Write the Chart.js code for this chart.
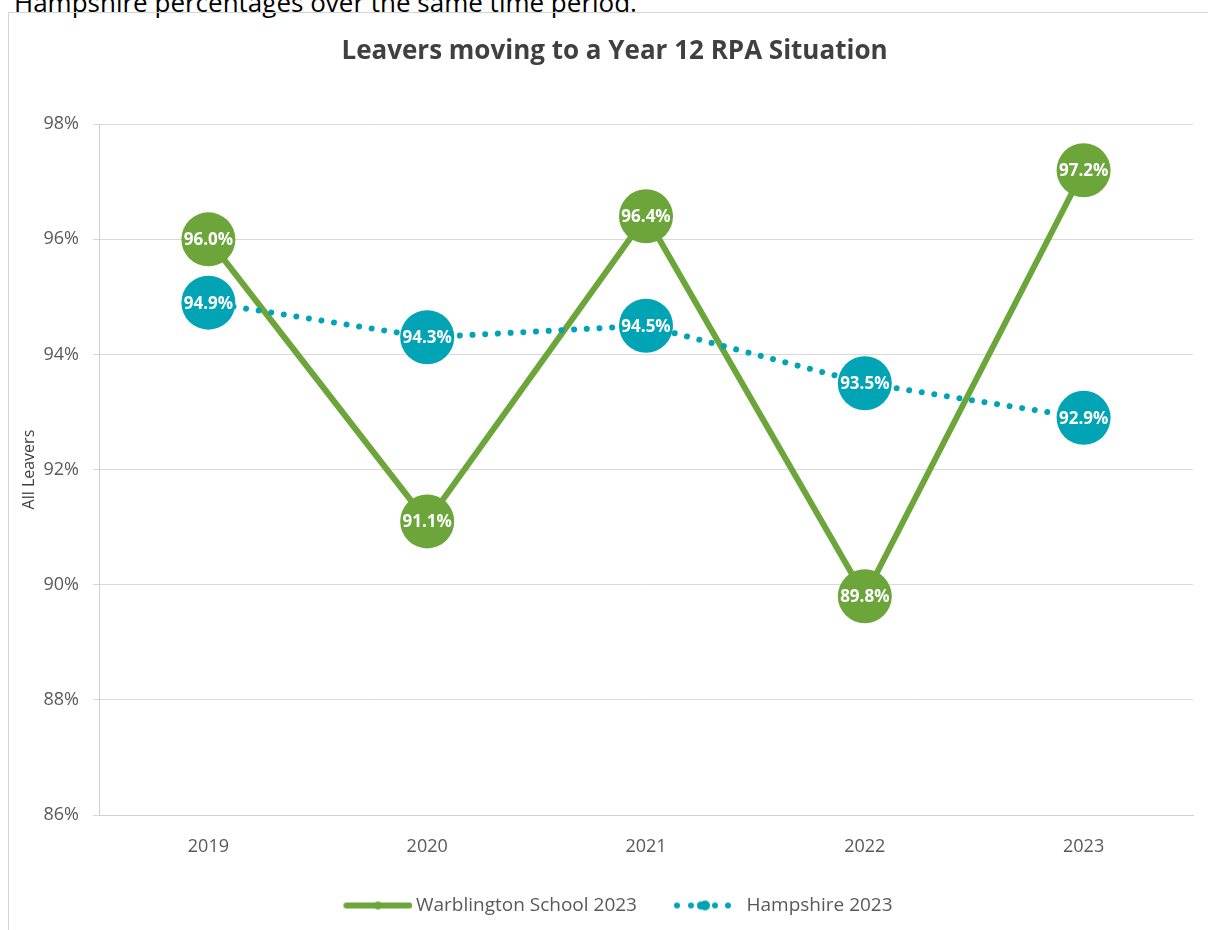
<!DOCTYPE html>
<html>
<head>
<meta charset="utf-8">
<title>Leavers moving to a Year 12 RPA Situation</title>
<script src="https://cdn.jsdelivr.net/npm/chart.js@4.4.1/dist/chart.umd.min.js"></script>
<style>
  html, body { margin: 0; padding: 0; background: #fff; width: 1208px; height: 930px; overflow: hidden; }
  .lead { position: absolute; left: 14px; top: -13px; font: 26px/30px 'Open Sans', sans-serif; color: #000; white-space: nowrap; }
  .frame { position: absolute; left: 8px; top: 12px; width: 1230px; height: 960px; border: 1px solid #d4d4d4; }
  #wrap { position: absolute; left: 9px; top: 13px; width: 1211px; height: 917px; }
</style>
</head>
<body>
<div class="lead">Hampshire percentages over the same time period.</div>
<div class="frame"></div>
<div id="wrap"><canvas id="chart"></canvas></div>
<script>
// 데이터 (그림에서 읽은 값, 단위 %)
const years = ['2019', '2020', '2021', '2022', '2023'];
const schoolValues = [96.0, 91.1, 96.4, 89.8, 97.2];
const hampshireValues = [94.9, 94.3, 94.5, 93.5, 92.9];
const yTicks = [86, 88, 90, 92, 94, 96, 98];

const GREEN = '#6ca53a';
const TEAL = '#00a4b5';
const FONT = "'Open Sans', sans-serif";
const ICON_BOX = 70;

// 범례 아이콘: 선 + 가운데 점. 이미지가 박스보다 넓고 왼쪽은 비워 둠 → 항목 간격 넓히고 글자 간격 좁힘
function legendIcon(color, dotted) {
  const c = document.createElement('canvas');
  c.width = ICON_BOX + 12; c.height = 14;
  const g = c.getContext('2d');
  g.strokeStyle = color; g.fillStyle = color;
  g.lineCap = 'round'; g.lineWidth = 6;
  const dot = (x, r) => { g.beginPath(); g.arc(x, 7, r, 0, Math.PI * 2); g.fill(); };
  if (dotted) {
    [16, 30, 54, 67].forEach(x => dot(x, 3));
    dot(40, 4); dot(44, 5);
  } else {
    g.beginPath(); g.moveTo(16, 7); g.lineTo(79, 7); g.stroke();
    dot(47.5, 4);
  }
  return c;
}
const legendIcons = [legendIcon(GREEN, false), legendIcon(TEAL, true)];

// 원 안에 값 표기
const bubbleLabels = {
  id: 'bubbleLabels',
  afterDatasetsDraw(chart) {
    const { ctx } = chart;
    ctx.save();
    ctx.font = `bold 17px ${FONT}`;
    ctx.fillStyle = '#fff';
    ctx.textAlign = 'center';
    ctx.textBaseline = 'middle';
    chart.data.datasets.forEach((ds, di) => {
      const meta = chart.getDatasetMeta(di);
      meta.data.forEach((pt, i) => {
        ctx.fillText(ds.data[i].toFixed(1) + '%', pt.x, pt.y + 1);
      });
    });
    ctx.restore();
  },
};

new Chart(document.getElementById('chart'), {
  type: 'line',
  data: {
    labels: years,
    datasets: [
      { label: 'Warblington School 2023', data: schoolValues, borderColor: GREEN, backgroundColor: GREEN,
        borderWidth: 6, tension: 0, pointRadius: 27, pointHoverRadius: 27, pointBorderWidth: 0,
        pointBackgroundColor: GREEN, order: 1 },
      { label: 'Hampshire 2023', data: hampshireValues, borderColor: TEAL, backgroundColor: TEAL,
        borderWidth: 6, borderDash: [0.01, 12.7], borderCapStyle: 'round', tension: 0,
        pointRadius: 27, pointHoverRadius: 27, pointBorderWidth: 0, pointBackgroundColor: TEAL, order: 0 },
    ],
  },
  options: {
    responsive: true,
    maintainAspectRatio: false,
    animation: false,
    layout: { padding: { top: 0, right: 24, left: 24, bottom: 5 } },
    plugins: {
      tooltip: { enabled: false },
      title: {
        display: true,
        text: 'Leavers moving to a Year 12 RPA Situation',
        color: '#404040',
        font: { family: FONT, size: 26, weight: 'bold' },
        padding: { top: 23, bottom: 57 },
      },
      legend: {
        position: 'bottom',
        labels: {
          usePointStyle: true,
          pointStyleWidth: ICON_BOX,
          padding: 30,
          color: '#595959',
          font: { family: FONT, size: 19 },
          sort: (a, b) => a.datasetIndex - b.datasetIndex,
          generateLabels: chart => Chart.defaults.plugins.legend.labels.generateLabels(chart)
            .map(l => Object.assign(l, { pointStyle: legendIcons[l.datasetIndex] })),
        },
      },
    },
    scales: {
      x: {
        offset: true,
        grid: { display: false, drawTicks: false },
        border: { color: '#d0d0d0', width: 1 },
        ticks: { color: '#595959', font: { family: FONT, size: 18 }, padding: 21 },
        afterFit: s => { s.height = 51; },
      },
      y: {
        min: 86, max: 98,
        afterBuildTicks: s => { s.ticks = yTicks.map(v => ({ value: v })); },
        grid: { color: '#d9d9d9', lineWidth: 1, tickLength: 6 },
        border: { color: '#d0d0d0', width: 1 },
        ticks: { color: '#595959', font: { family: FONT, size: 18 }, padding: 14, callback: v => v + '%' },
        title: { display: true, text: 'All Leavers', color: '#404040', font: { family: FONT, size: 16 }, padding: { top: -13, bottom: 0 } },
        afterFit: s => { s.width = 66; },
      },
    },
  },
  plugins: [bubbleLabels],
});
</script>
</body>
</html>
